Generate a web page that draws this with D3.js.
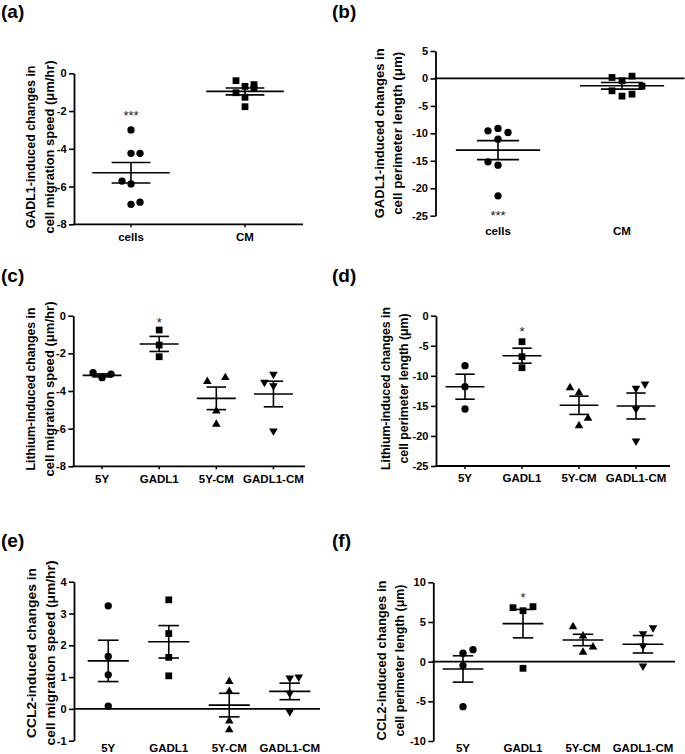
<!DOCTYPE html>
<html><head><meta charset="utf-8">
<script src="https://cdn.jsdelivr.net/npm/d3@7"></script>
<style>body{margin:0;background:#fff}svg{display:block}</style>
</head><body>
<svg id="chart" width="685" height="754"></svg>
<script>
// ---------------- DATA ----------------
const catsAB = ["cells", "CM"];
const catsCF = ["5Y", "GADL1", "5Y-CM", "GADL1-CM"];

// (a) GADL1-induced changes in cell migration speed (µm/hr)
const aValues = [[-3.0, -4.24, -4.24, -5.71, -5.86, -6.94, -6.83],
                 [-0.39, -0.69, -0.60, -0.78, -1.03, -1.27, -1.77]];
const aSlots  = [[0, 0, 1, -1, 0, 0, 1], [-1, 0, 1, 1, -1, 0, 0]];
const aMeans  = [-5.27, -0.96];
const aSems   = [0.545, 0.185];
const aStars  = [{cat: "cells", text: "***", value: -2.09}];
const aTicks  = [0, -2, -4, -6, -8];

// (b) GADL1-induced changes in cell perimeter length (µm)
const bValues = [[-9.54, -9.1, -9.84, -11.06, -15.19, -15.79, -21.38],
                 [0.18, 0.42, -0.43, -1.4, -2.25, -2.86, -3.22]];
const bSlots  = [[-1, 0, 1, 0, -1, 0, 0], [-1, 1, 0, 2, -1, 1, 0]];
const bMeans  = [-13.06, -1.34];
const bSems   = [1.73, 0.61];
const bStars  = [{cat: "cells", text: "***", value: -24.4}];
const bTicks  = [5, 0, -5, -10, -15, -20, -25];

// (c) Lithium-induced changes in cell migration speed (µm/hr)
const cValues = [[-3.03, -3.29, -3.10],
                 [-0.76, -1.56, -2.18],
                 [-3.5, -3.29, -5.06, -5.77],
                 [-3.54, -3.11, -3.72, -6.12]];
const cSlots  = [[-1, 0, 1], [0, 0, 0], [-1, 1, 0, 0], [-1, 0, 0, 0]];
const cMeans  = [-3.17, -1.5, -4.39, -4.16];
const cSems   = [0.08, 0.4, 0.6, 0.68];
const cStars  = [{cat: "GADL1", text: "*", value: -0.18}];
const cTicks  = [0, -2, -4, -6, -8];

// (d) Lithium-induced changes in cell perimeter length (µm)
const dValues = [[-8.31, -11.81, -15.52],
                 [-4.32, -6.82, -8.65],
                 [-11.97, -12.8, -17.07, -18.3],
                 [-12.08, -11.36, -15.52, -20.84]];
const dSlots  = [[0, 0, 0], [0, 0, 0], [-1, 0, 1, 0], [0, 1, 0, 0]];
const dMeans  = [-11.81, -6.65, -14.9, -15.02];
const dSems   = [2.08, 1.25, 1.52, 2.16];
const dStars  = [{cat: "GADL1", text: "*", value: -2.2}];
const dTicks  = [0, -5, -10, -15, -20, -25];

// (e) CCL2-induced changes in cell migration speed (µm/hr)
const eValues = [[3.24, 1.65, 1.07, 0.09],
                 [3.43, 2.37, 1.62, 1.04],
                 [0.86, 0.55, -0.38, -0.66],
                 [0.97, 1.0, 0.49, -0.09]];
const eSlots  = [[0, 0, 0, 0], [0, 0, 0, 0], [0, 0, 0, 0], [0, 1, 0, 0]];
const eMeans  = [1.51, 2.11, 0.12, 0.55];
const eSems   = [0.65, 0.51, 0.37, 0.26];
const eStars  = [];
const eTicks  = [4, 3, 2, 1, 0, -1];

// (f) CCL2-induced changes in cell perimeter length (µm)
const fValues = [[1.06, 1.51, -0.5, -5.67],
                 [6.8, 6.93, 6.42, -0.84],
                 [4.41, 3.24, 1.18, 1.85],
                 [3.53, 4.28, 1.98, -0.54]];
const fSlots  = [[0, 1, 0, 0], [-1, 1, 0, 0], [-1, 0, 0, 1], [0, 1, 0, 0]];
const fMeans  = [-0.92, 4.79, 2.73, 2.19];
const fSems   = [1.66, 1.79, 0.72, 1.1];
const fStars  = [{cat: "GADL1", text: "*", value: 8.5}];
const fTicks  = [10, 5, 0, -5, -10];

const titles = {
  a: ["GADL1-induced changes in", "cell migration speed (\u03bcm/hr)"],
  b: ["GADL1-induced changes in", "cell perimeter length (\u03bcm)"],
  c: ["Lithium-induced changes in", "cell migration speed (\u03bcm/hr)"],
  d: ["Lithium-induced changes in", "cell perimeter length (\u03bcm)"],
  e: ["CCL2-induced changes in", "cell migration speed (\u03bcm/hr)"],
  f: ["CCL2-induced changes in", "cell perimeter length (\u03bcm)"]
};

// ---------------- LAYOUT ----------------
const panels = [
  {id: "a", cats: catsAB, values: aValues, slots: aSlots, means: aMeans, sems: aSems, stars: aStars, ticks: aTicks,
   yd: [-8, 0], yr: [224.3, 73.3], axisX: 74, xr: [74, 302], xEnd: 303, baseAt: "bottom", labelY: 240.5,
   slotW: 9, tag: [1, 17.5], titleX: [34.6, 53.8], titleY: 147, titleLen: [163, 173]},
  {id: "b", cats: catsAB, values: bValues, slots: bSlots, means: bMeans, sems: bSems, stars: bStars, ticks: bTicks,
   yd: [-25, 5], yr: [215.7, 51], axisX: 435.5, xr: [436, 684], xEnd: 684.5, baseAt: "zero", labelY: 235,
   slotW: 10, tag: [332, 17.5], titleX: [384.2, 402.4], titleY: 133.3, titleLen: [170, 163]},
  {id: "c", cats: catsCF, values: cValues, slots: cSlots, means: cMeans, sems: cSems, stars: cStars, ticks: cTicks,
   yd: [-8, 0], yr: [466.3, 315.7], axisX: 73.3, xr: [73.5, 302], xEnd: 305, baseAt: "bottom", labelY: 483,
   slotW: 9, tag: [1, 282], titleX: [34.6, 53.8], titleY: 389, titleLen: [163, 175]},
  {id: "d", cats: catsCF, values: dValues, slots: dSlots, means: dMeans, sems: dSems, stars: dStars, ticks: dTicks,
   yd: [-25, 0], yr: [466, 315.7], axisX: 436, xr: [436.5, 664.5], xEnd: 670, baseAt: "bottom", labelY: 481.5,
   slotW: 9, tag: [332, 282], titleX: [389.6, 407.6], titleY: 388.5, titleLen: [163, 150]},
  {id: "e", cats: catsCF, values: eValues, slots: eSlots, means: eMeans, sems: eSems, stars: eStars, ticks: eTicks,
   yd: [-1, 4], yr: [740.7, 581.7], axisX: 74, xr: [78, 320], xEnd: 320, baseAt: "zero", labelY: 752,
   slotW: 9, tag: [1, 547], titleX: [36, 55.4], titleY: 653, titleLen: [170, 185]},
  {id: "f", cats: catsCF, values: fValues, slots: fSlots, means: fMeans, sems: fSems, stars: fStars, ticks: fTicks,
   yd: [-10, 10], yr: [741, 582.3], axisX: 433.3, xr: [433, 673], xEnd: 675, baseAt: "zero", labelY: 752,
   slotW: 10, tag: [332, 547], titleX: [386.2, 404.4], titleY: 660.5, titleLen: [160, 152]}
];

const FONT = "'Liberation Sans', Arial, Helvetica, sans-serif";
const INK = "#000";
const symbols = [
  {type: d3.symbolCircle, size: 42, rot: 0},
  {type: d3.symbolSquare, size: 46, rot: 0},
  {type: d3.symbolTriangle, size: 32, rot: 0},
  {type: d3.symbolTriangle, size: 32, rot: 180}
];

const svg = d3.select("#chart");
svg.append("rect").attr("width", 685).attr("height", 754).attr("fill", "#fff");

function drawPanel(p) {
  const g = svg.append("g").attr("class", "panel-" + p.id);
  const x = d3.scalePoint().domain(p.cats).range(p.xr).padding(0.5);
  const y = d3.scaleLinear().domain(p.yd).range(p.yr);
  const step = x.step();

  // y axis
  const yAxis = d3.axisLeft(y).tickValues(p.ticks).tickSize(5).tickSizeOuter(0)
    .tickPadding(2.5).tickFormat(d => String(d));
  const ga = g.append("g").attr("transform", `translate(${p.axisX},0)`).call(yAxis);
  ga.select(".domain").attr("stroke", INK).attr("stroke-width", 1.8);
  ga.selectAll(".tick line").attr("stroke", INK).attr("stroke-width", 1.6);
  ga.selectAll(".tick text").attr("font-family", FONT).attr("font-size", 11)
    .attr("font-weight", "bold").attr("fill", INK);

  // x baseline
  const baseY = p.baseAt === "zero" ? y(0) : y(p.yd[0]);
  g.append("line").attr("x1", p.axisX - 0.9).attr("x2", p.xEnd)
    .attr("y1", baseY).attr("y2", baseY).attr("stroke", INK).attr("stroke-width", 1.8);
  if (p.baseAt === "bottom") {
    g.selectAll("line.xt").data(p.cats).join("line").attr("class", "xt")
      .attr("x1", d => x(d)).attr("x2", d => x(d))
      .attr("y1", baseY).attr("y2", baseY + 3).attr("stroke", INK).attr("stroke-width", 1.5);
  }
  // category labels
  g.selectAll("text.cat").data(p.cats).join("text").attr("class", "cat")
    .attr("x", d => x(d)).attr("y", p.labelY).attr("text-anchor", "middle")
    .attr("font-family", FONT).attr("font-size", 11.5).attr("font-weight", "bold").attr("fill", INK)
    .text(d => d);

  // points
  p.cats.forEach((cat, i) => {
    const sym = symbols[i];
    const gen = d3.symbol().type(sym.type).size(sym.size);
    const pts = p.values[i].map((v, j) => ({v, s: p.slots[i][j]}));
    g.selectAll("path.pt-" + i).data(pts).join("path").attr("class", "pt-" + i)
      .attr("d", gen())
      .attr("transform", d => `translate(${x(cat) + d.s * p.slotW},${y(d.v)}) rotate(${sym.rot})`)
      .attr("fill", INK);

    // mean and SEM
    const cx = x(cat);
    const mhw = step * 0.34, chw = step * 0.17;
    const m = p.means[i], s = p.sems[i];
    const lines = [
      [cx - mhw, y(m), cx + mhw, y(m)],
      [cx, y(m + s), cx, y(m - s)],
      [cx - chw, y(m + s), cx + chw, y(m + s)],
      [cx - chw, y(m - s), cx + chw, y(m - s)]
    ];
    g.selectAll("line.ms-" + i).data(lines).join("line").attr("class", "ms-" + i)
      .attr("x1", d => d[0]).attr("y1", d => d[1]).attr("x2", d => d[2]).attr("y2", d => d[3])
      .attr("stroke", INK).attr("stroke-width", 1.6);
  });

  // significance stars
  g.selectAll("text.star").data(p.stars).join("text").attr("class", "star")
    .attr("x", d => x(d.cat)).attr("y", d => y(d.value) + 7.5)
    .attr("text-anchor", "middle").attr("font-family", FONT).attr("font-size", 13)
    .attr("fill", "#222").text(d => d.text);

  // y title (two lines, rotated)
  const tg = g.append("g").attr("transform", `translate(0,${p.titleY}) rotate(-90)`);
  titles[p.id].forEach((t, k) => {
    tg.append("text").attr("x", 0).attr("y", p.titleX[k]).attr("text-anchor", "middle")
      .attr("font-family", FONT).attr("font-size", 13).attr("font-weight", "bold")
      .attr("textLength", p.titleLen[k]).attr("lengthAdjust", "spacingAndGlyphs")
      .attr("fill", INK).text(t);
  });

  // panel tag
  g.append("text").attr("x", p.tag[0]).attr("y", p.tag[1])
    .attr("font-family", FONT).attr("font-size", 19)
    .attr("font-weight", "bold").attr("fill", INK).text(`(${p.id})`);
}

panels.forEach(drawPanel);
</script>
</body></html>
